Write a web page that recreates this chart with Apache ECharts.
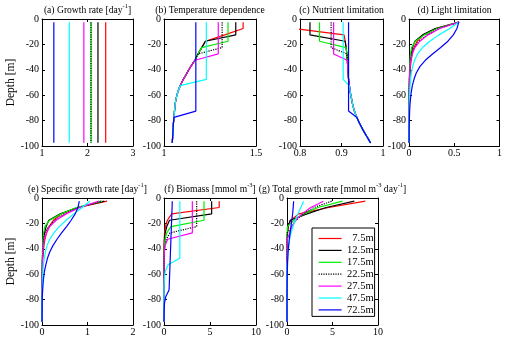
<!DOCTYPE html>
<html><head><meta charset="utf-8">
<script src="https://cdn.jsdelivr.net/npm/echarts@6/dist/echarts.min.js"></script>
<style>html,body{margin:0;padding:0;background:#fff}#c{width:505px;height:342px}</style>
</head><body><div id="c"></div>
<script>
// ---------------- data ----------------
const depths = [-2.5,-7.5,-12.5,-17.5,-22.5,-27.5,-32.5,-37.5,-42.5,-47.5,-52.5,-57.5,-62.5,-67.5,-72.5,-77.5,-82.5,-87.5,-92.5,-97.5];
const mixedLayerNames = ['7.5m','12.5m','17.5m','22.5m','27.5m','47.5m','72.5m'];
const depthTicks = [-100,-80,-60,-40,-20,0];

// (a) growth rate per scenario (constant with depth)
const growthRate = [2.40, 2.23, 2.08, 2.075, 1.92, 1.60, 1.26];
const xTicksA = [1,2,3];

// (b) temperature dependence
const temperatureDependence = [
 [1.43,1.43,1.33,1.225,1.205,1.185,1.168,1.145,1.125,1.105,1.088,1.075,1.066,1.06,1.057,1.054,1.051,1.049,1.047,1.045],
 [1.39,1.39,1.39,1.225,1.205,1.185,1.168,1.145,1.125,1.105,1.088,1.075,1.066,1.06,1.057,1.054,1.051,1.049,1.047,1.045],
 [1.348,1.348,1.348,1.348,1.205,1.185,1.168,1.145,1.125,1.105,1.088,1.075,1.066,1.06,1.057,1.054,1.051,1.049,1.047,1.045],
 [1.316,1.316,1.316,1.316,1.316,1.185,1.168,1.145,1.125,1.105,1.088,1.075,1.066,1.06,1.057,1.054,1.051,1.049,1.047,1.045],
 [1.295,1.295,1.295,1.295,1.295,1.295,1.168,1.145,1.125,1.105,1.088,1.075,1.066,1.06,1.057,1.054,1.051,1.049,1.047,1.045],
 [1.23,1.23,1.23,1.23,1.23,1.23,1.23,1.23,1.23,1.23,1.088,1.075,1.066,1.06,1.057,1.054,1.051,1.049,1.047,1.045],
 [1.173,1.173,1.173,1.173,1.173,1.173,1.173,1.173,1.173,1.173,1.173,1.173,1.173,1.173,1.173,1.054,1.051,1.049,1.047,1.045]
];
const xTicksB = [1,1.5];

// (c) nutrient limitation
const nutrientLimitation = [
 [0.785,0.785,0.906,0.909,0.911,0.913,0.914,0.915,0.916,0.917,0.919,0.921,0.924,0.927,0.931,0.937,0.944,0.952,0.961,0.970],
 [0.824,0.824,0.824,0.909,0.911,0.913,0.914,0.915,0.916,0.917,0.919,0.921,0.924,0.927,0.931,0.937,0.944,0.952,0.961,0.970],
 [0.847,0.847,0.847,0.847,0.911,0.913,0.914,0.915,0.916,0.917,0.919,0.921,0.924,0.927,0.931,0.937,0.944,0.952,0.961,0.970],
 [0.875,0.875,0.875,0.875,0.875,0.913,0.914,0.915,0.916,0.917,0.919,0.921,0.924,0.927,0.931,0.937,0.944,0.952,0.961,0.970],
 [0.881,0.881,0.881,0.881,0.881,0.881,0.914,0.915,0.916,0.917,0.919,0.921,0.924,0.927,0.931,0.937,0.944,0.952,0.961,0.970],
 [0.904,0.904,0.904,0.904,0.904,0.904,0.904,0.904,0.904,0.904,0.919,0.921,0.924,0.927,0.931,0.937,0.944,0.952,0.961,0.970],
 [0.917,0.917,0.917,0.917,0.917,0.917,0.917,0.917,0.917,0.917,0.917,0.917,0.917,0.917,0.917,0.937,0.944,0.952,0.961,0.970]
];
const xTicksC = [0.8,0.9,1];

// (d) light limitation
const lightLimitation = [
 [0.55,0.30,0.16,0.09,0.056,0.036,0.024,0.016,0.011,0.007,0.005,0.003,0.002,0.0015,0.001,0.001,0.0005,0.0005,0.0003,0.0002],
 [0.555,0.29,0.15,0.065,0.038,0.024,0.016,0.01,0.007,0.005,0.003,0.002,0.0015,0.001,0.001,0.0005,0.0005,0.0003,0.0002,0.0001],
 [0.55,0.31,0.17,0.07,0.028,0.017,0.011,0.007,0.005,0.003,0.002,0.0015,0.001,0.001,0.0005,0.0005,0.0003,0.0002,0.0001,0.0001],
 [0.55,0.33,0.20,0.11,0.06,0.03,0.018,0.011,0.007,0.005,0.003,0.002,0.0015,0.001,0.001,0.0005,0.0005,0.0003,0.0002,0.0001],
 [0.55,0.34,0.21,0.12,0.065,0.036,0.02,0.012,0.008,0.005,0.003,0.002,0.0015,0.001,0.001,0.0005,0.0005,0.0003,0.0002,0.0001],
 [0.55,0.45,0.33,0.23,0.15,0.095,0.06,0.04,0.027,0.018,0.012,0.008,0.005,0.0035,0.0025,0.0015,0.001,0.0007,0.0005,0.0003],
 [0.55,0.53,0.49,0.43,0.35,0.26,0.18,0.12,0.08,0.055,0.037,0.025,0.017,0.011,0.007,0.005,0.003,0.002,0.0015,0.001]
];
const xTicksD = [0,0.5,1];

// (e) specific growth rate
const specificGrowthRate = [
 [1.43,0.80,0.43,0.25,0.16,0.10,0.065,0.042,0.028,0.018,0.012,0.008,0.005,0.003,0.002,0.002,0.001,0.001,0.001,0.001],
 [1.37,0.78,0.40,0.15,0.09,0.055,0.035,0.022,0.015,0.01,0.006,0.004,0.003,0.002,0.001,0.001,0.001,0.001,0.001,0.001],
 [1.32,0.76,0.42,0.17,0.06,0.035,0.022,0.014,0.009,0.006,0.004,0.003,0.002,0.001,0.001,0.001,0.001,0.001,0.001,0.001],
 [1.29,0.82,0.50,0.28,0.15,0.06,0.035,0.022,0.014,0.009,0.006,0.004,0.003,0.002,0.001,0.001,0.001,0.001,0.001,0.001],
 [1.25,0.83,0.53,0.31,0.17,0.095,0.05,0.03,0.02,0.013,0.008,0.005,0.003,0.002,0.001,0.001,0.001,0.001,0.001,0.001],
 [1.05,0.88,0.70,0.53,0.38,0.26,0.17,0.11,0.075,0.05,0.03,0.02,0.012,0.008,0.005,0.003,0.002,0.001,0.001,0.001],
 [0.82,0.79,0.73,0.64,0.54,0.43,0.33,0.24,0.17,0.12,0.085,0.055,0.036,0.023,0.015,0.006,0.004,0.003,0.002,0.001]
];
const xTicksE = [0,1,2];

// (f) biomass
const biomass = [
 [6.0,6.0,0.85,0.36,0.15,0.06,0.025,0.01,0.004,0.002,0.001,0,0,0,0,0,0,0,0,0],
 [5.18,5.18,5.18,0.6,0.3,0.13,0.055,0.022,0.009,0.004,0.002,0.001,0,0,0,0,0,0,0,0],
 [4.35,4.35,4.35,4.35,0.75,0.3,0.12,0.05,0.02,0.008,0.003,0.001,0,0,0,0,0,0,0,0],
 [3.55,3.55,3.55,3.55,3.55,0.65,0.25,0.1,0.04,0.015,0.006,0.002,0.001,0,0,0,0,0,0,0],
 [3.08,3.08,3.08,3.08,3.08,3.08,0.4,0.12,0.04,0.015,0.005,0.002,0.001,0,0,0,0,0,0,0],
 [1.72,1.72,1.72,1.72,1.72,1.72,1.72,1.72,1.72,1.72,0.44,0.15,0.05,0.015,0.005,0.002,0.001,0,0,0],
 [0.90,0.88,0.85,0.83,0.80,0.78,0.75,0.73,0.70,0.68,0.65,0.63,0.60,0.58,0.55,0.2,0.06,0.02,0.006,0.002]
];
const xTicksF = [0,5,10];

// (g) total growth rate
const totalGrowthRate = [
 [8.6,4.6,1.3,0.4,0.13,0.045,0.016,0.006,0.002,0.001,0,0,0,0,0,0,0,0,0,0],
 [7.4,4.3,2.2,0.35,0.12,0.05,0.02,0.008,0.003,0.001,0,0,0,0,0,0,0,0,0,0],
 [6.1,3.4,1.85,0.75,0.05,0.012,0.003,0.001,0,0,0,0,0,0,0,0,0,0,0,0],
 [4.9,2.95,1.8,1.0,0.55,0.04,0.01,0.002,0.001,0,0,0,0,0,0,0,0,0,0,0],
 [4.0,2.6,1.65,0.95,0.52,0.3,0.02,0.004,0.001,0,0,0,0,0,0,0,0,0,0,0],
 [1.82,1.52,1.2,0.92,0.66,0.45,0.29,0.19,0.13,0.085,0.013,0.003,0.001,0,0,0,0,0,0,0],
 [0.73,0.68,0.62,0.53,0.43,0.34,0.25,0.18,0.12,0.082,0.055,0.035,0.022,0.013,0.008,0.001,0.0003,0.0001,0,0]
];
const xTicksG = [0,5,10];

// ---------------- styles / layout ----------------
const FONT = '"Liberation Serif","Times New Roman",serif';
const lineColors = ['#ff0000','#000000','#00ee00','#000000','#ff00ff','#00ffff','#0000ff'];
const lineTypes = ['solid','solid','solid','dotted','solid','solid','solid'];
const panelLayout = [
  {left:42, top:19, width:91}, {left:164, top:19, width:92}, {left:300, top:19, width:83}, {left:409, top:19, width:91},
  {left:42, top:198, width:91}, {left:164, top:198, width:92}, {left:287, top:198, width:91}
];
const PH = 127;

const panelValues = [null, temperatureDependence, nutrientLimitation, lightLimitation, specificGrowthRate, biomass, totalGrowthRate];
const panelTicks = [xTicksA, xTicksB, xTicksC, xTicksD, xTicksE, xTicksF, xTicksG];
const titles = [
  '(a) Growth rate [day{sup|-1}]',
  '(b) Temperature dependence',
  '(c) Nutrient limitation',
  '(d) Light limitation',
  '(e) Specific growth rate [day{sup|-1}]',
  '(f) Biomass [mmol m{sup|-3}]',
  '(g) Total growth rate [mmol m{sup|-3} day{sup|-1}]'
];

const grids = [], xAxes = [], yAxes = [], series = [], graphics = [];
const tickStyle = {show:true, inside:true, length:3, lineStyle:{color:'#000', width:1}};
const lineAx = {show:true, onZero:false, lineStyle:{color:'#000', width:1}};

panelLayout.forEach((p, i) => {
  grids.push({left:p.left, top:p.top, width:p.width, height:PH, show:false, containLabel:false});
  const t = panelTicks[i];
  const xmin = t[0], xmax = t[t.length-1], xint = t[1]-t[0];
  xAxes.push({type:'value', gridIndex:i, min:xmin, max:xmax, interval:xint, position:'bottom',
    axisLine:lineAx, axisTick:tickStyle, splitLine:{show:false},
    axisLabel:{show:true, margin:2, fontSize:10, fontFamily:FONT, color:'#000', showMaxLabel:true, showMinLabel:true}});
  yAxes.push({type:'value', gridIndex:i, min:depthTicks[0], max:depthTicks[depthTicks.length-1], interval:depthTicks[1]-depthTicks[0], position:'left',
    axisLine:lineAx, axisTick:tickStyle, splitLine:{show:false},
    axisLabel:{show:true, margin:3, fontSize:10, fontFamily:FONT, color:'#000'},
    name:(i===0||i===4)?'Depth [m]':'', nameLocation:'middle', nameGap:24, nameRotate:90,
    nameTextStyle:{fontSize:11.5, fontFamily:FONT, color:'#000'}});
  graphics.push({type:'text', x:p.left+p.width/2, y:p.top-9, silent:true,
    style:{text:titles[i], fill:'#000', fontSize:9.6, fontFamily:FONT, lineHeight:15, align:'center', verticalAlign:'middle',
      rich:{sup:{fontSize:6.5, fontFamily:FONT, fill:'#000', lineHeight:8, verticalAlign:'top'}}}});
  for (let k = 0; k < mixedLayerNames.length; k++) {
    const vals = panelValues[i];
    const data = depths.map((d, j) => [i===0 ? growthRate[k] : vals[k][j], d]);
    series.push({type:'line', name:mixedLayerNames[k], xAxisIndex:i, yAxisIndex:i, data:data,
      symbol:'none', showSymbol:false, clip:true, animation:false, silent:true,
      lineStyle:{color:lineColors[k], width:1.2, type:lineTypes[k]},
      itemStyle:{color:lineColors[k], opacity:0}});
  }
});
// mirrored axes (top / right) for the box frame with inner ticks
panelLayout.forEach((p, i) => {
  const t = panelTicks[i];
  xAxes.push({type:'value', gridIndex:i, min:t[0], max:t[t.length-1], interval:t[1]-t[0], position:'top',
    axisLine:lineAx, axisTick:tickStyle, axisLabel:{show:false}, splitLine:{show:false}});
  yAxes.push({type:'value', gridIndex:i, min:depthTicks[0], max:depthTicks[depthTicks.length-1], interval:depthTicks[1]-depthTicks[0], position:'right',
    axisLine:lineAx, axisTick:tickStyle, axisLabel:{show:false}, splitLine:{show:false}});
});

const chart = echarts.init(document.getElementById('c'), null, {renderer:'canvas'});
chart.setOption({
  backgroundColor:'#fff',
  animation:false,
  grid:grids, xAxis:xAxes, yAxis:yAxes, series:series,
  graphic:graphics,
  legend:{show:true, data:mixedLayerNames, orient:'vertical', left:312, top:228,
    padding:[5,1,1,6], itemGap:0.9, itemWidth:23, itemHeight:10,
    backgroundColor:'#fff', borderColor:'#000', borderWidth:1, borderRadius:0,
    selectedMode:false,
    lineStyle:{width:1.2},
    itemStyle:{opacity:0},
    formatter:'{r|{name}}',
    textStyle:{color:'#000', fontSize:10.5, fontFamily:FONT,
      rich:{r:{width:27, align:'right', lineHeight:10, fontSize:10.5, fontFamily:FONT, color:'#000'}}}}
});
</script></body></html>
